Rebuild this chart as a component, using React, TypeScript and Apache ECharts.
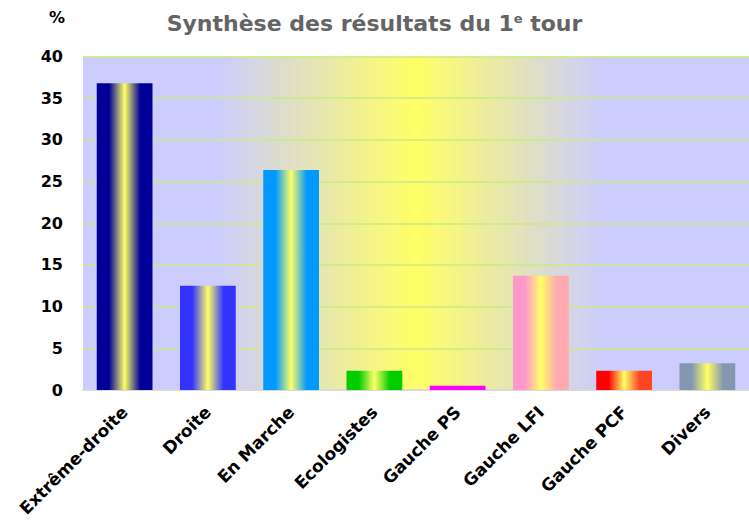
import React, { useEffect, useRef } from "react";
import * as echarts from "echarts";

const categories = ["Extrême-droite", "Droite", "En Marche", "Ecologistes", "Gauche PS", "Gauche LFI", "Gauche PCF", "Divers"];
const values = [36.8, 12.5, 26.4, 2.3, 0.5, 13.7, 2.3, 3.2];
const leftColors = ["#000099", "#3333ff", "#0099ff", "#00cc00", "#ff00ff", "#ff99cc", "#ff0000", "#8497b0"];
const rightColors = ["#000099", "#3333ff", "#0099ff", "#00cc00", "#ff00ff", "#ffaab0", "#ff4422", "#8497b0"];
const yTicks = [0, 5, 10, 15, 20, 25, 30, 35, 40];

const FONT = "DejaVu Sans, Verdana, sans-serif";

export default function App() {
  const ref = useRef<HTMLDivElement>(null);
  useEffect(() => {
    document.body.style.margin = "0";
    const chart = echarts.init(ref.current!, null, { renderer: "svg" });
    const yellow = "#ffff66";
    chart.setOption({
      animation: false,
      title: {
        text: "Synthèse des résultats du 1{sup|e} tour",
        left: "center",
        top: 7,
        textStyle: {
          fontFamily: FONT,
          fontSize: 22,
          fontWeight: "bold",
          color: "#646464",
          rich: {
            sup: {
              fontFamily: FONT,
              fontSize: 13,
              fontWeight: "bold",
              color: "#646464",
              verticalAlign: "top",
              padding: [0, 0, 8, 0],
            },
          },
        },
      },
      graphic: [
        {
          type: "text",
          left: 49,
          top: 9,
          style: {
            text: "%",
            font: "bold 16px 'DejaVu Sans', Verdana, sans-serif",
            fill: "#000",
          },
        },
      ],
      grid: {
        left: 83,
        right: 0,
        top: 56.5,
        bottom: 140,
        show: true,
        borderWidth: 0,
        backgroundColor: new echarts.graphic.LinearGradient(0, 0, 1, 0, [
          { offset: 0, color: "#ccccff" },
          { offset: 0.2, color: "#ccccff" },
          { offset: 0.5, color: yellow },
          { offset: 0.78, color: "#ccccff" },
          { offset: 1, color: "#ccccff" },
        ]),
      },
      xAxis: {
        type: "category",
        data: categories,
        axisLine: { show: true, lineStyle: { color: "#d9d9d9", width: 2 } },
        axisTick: { show: false },
        axisLabel: {
          rotate: 45,
          interval: 0,
          margin: 19,
          fontFamily: FONT,
          fontSize: 17,
          fontWeight: "bold",
          color: "#000",
        },
      },
      yAxis: {
        type: "value",
        min: 0,
        max: 40,
        interval: 5,
        axisLine: { show: false },
        axisTick: { show: false },
        splitLine: { show: true, lineStyle: { color: "#c8ec80", width: 1.5 } },
        axisLabel: {
          margin: 20,
          fontFamily: FONT,
          fontSize: 16,
          fontWeight: "bold",
          color: "#000",
          formatter: (v: number) => (yTicks.includes(v) ? String(v) : ""),
        },
      },
      series: [
        {
          type: "bar",
          barWidth: "67%",
          data: values.map((v, i) => ({
            value: v,
            itemStyle: {
              color:
                i === 4
                  ? leftColors[i]
                  : new echarts.graphic.LinearGradient(0, 0, 1, 0, [
                      { offset: 0, color: leftColors[i] },
                      { offset: 0.22, color: leftColors[i] },
                      { offset: 0.5, color: yellow },
                      { offset: 0.78, color: rightColors[i] },
                      { offset: 1, color: rightColors[i] },
                    ]),
            },
          })),
        },
      ],
    });
    return () => chart.dispose();
  }, []);
  return <div ref={ref} style={{ width: 749, height: 530 }} />;
}
